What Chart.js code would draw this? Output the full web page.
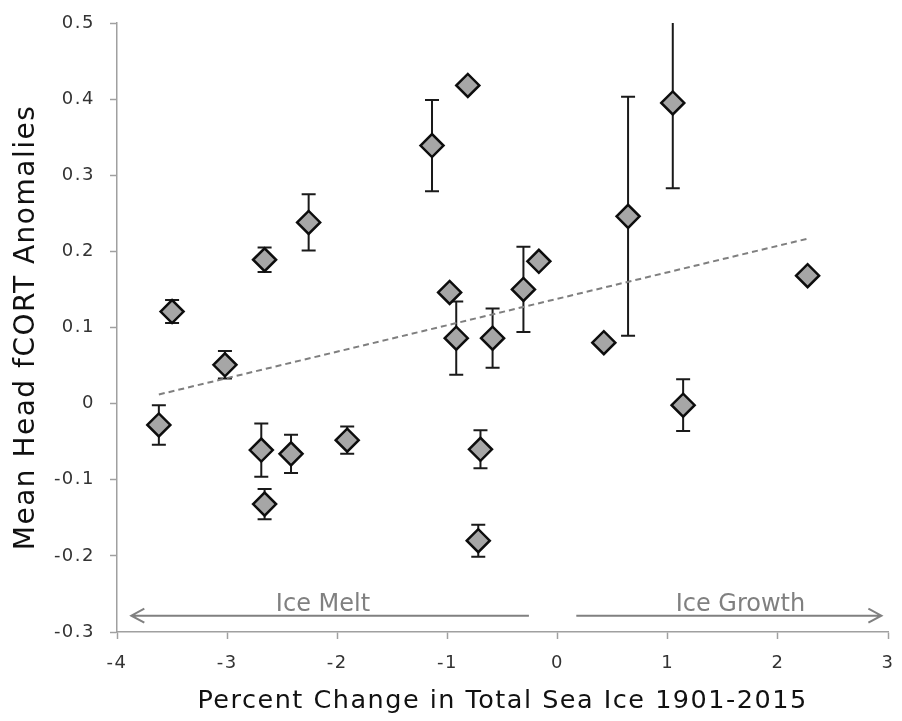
<!DOCTYPE html>
<html>
<head>
<meta charset="utf-8">
<script src="https://cdn.jsdelivr.net/npm/chart.js@4"></script>
<style>
  body { margin: 0; background: #fff; }
  #wrap { width: 902px; height: 721px; position: relative; }
</style>
</head>
<body>
<div id="wrap"><canvas id="myChart"></canvas></div>
<script>
// percent change in sea ice (x), mean head fCORT anomaly (y), +/- error
const xVals = [-3.62, -3.50, -3.02, -2.66, -2.26, -1.14, -0.815, -0.98, -0.92, -0.59, -0.31, -0.17,
               -2.69, -2.42, -2.66, -1.91, -0.70, -0.72, 0.42, 0.64, 1.046, 1.14, 2.27];
const yVals = [-0.028, 0.121, 0.051, 0.189, 0.238, 0.339, 0.418, 0.146, 0.086, 0.086, 0.150, 0.187,
               -0.061, -0.066, -0.132, -0.048, -0.060, -0.180, 0.080, 0.246, 0.395, -0.002, 0.168];
const errVals = [0.026, 0.015, 0.018, 0.016, 0.037, 0.060, 0, 0, 0.048, 0.039, 0.056, 0,
                 0.035, 0.025, 0.020, 0.018, 0.025, 0.021, 0, 0.157, 0.112, 0.034, 0];

// dashed trend line end points
const trendX = [-3.62, 2.28];
const trendY = [0.012, 0.217];

// axis ranges
const xTicks = [-4, 3];
const yTicks = [-0.3, 0.5];

// arrows under the points
const arrowLabels = ['Ice Melt', 'Ice Growth'];
const arrowFrom = [-0.26, 0.17];
const arrowTo = [-3.87, 2.94];
const labelX = [-2.13, 1.66];
const arrowY = -0.2785;
const labelY = -0.272;

const points = xVals.map(function(v, i) { return {x: v, y: yVals[i]}; });
const trend = trendX.map(function(v, i) { return {x: v, y: trendY[i]}; });

// letter spacing for the wide axis text
const spacing = {
    id: 'spacing',
    beforeLayout(chart) { chart.ctx.letterSpacing = '1.5px'; },
    beforeDraw(chart) { chart.ctx.letterSpacing = '1.5px'; }
};

const errorBars = {
    id: 'errorBars',
    beforeDatasetsDraw(chart) {
        const ctx = chart.ctx;
        const area = chart.chartArea;
        const x = chart.scales.x, y = chart.scales.y;
        ctx.save();
        ctx.beginPath();
        ctx.rect(area.left, area.top, area.right - area.left, area.bottom - area.top);
        ctx.clip();
        ctx.strokeStyle = '#1a1a1a';
        ctx.lineWidth = 2;
        xVals.forEach(function(v, i) {
            const e = errVals[i];
            if (!e) return;
            const px = x.getPixelForValue(v);
            const top = y.getPixelForValue(yVals[i] + e);
            const bot = y.getPixelForValue(yVals[i] - e);
            ctx.beginPath();
            ctx.moveTo(px, top); ctx.lineTo(px, bot);
            ctx.moveTo(px - 7, top); ctx.lineTo(px + 7, top);
            ctx.moveTo(px - 7, bot); ctx.lineTo(px + 7, bot);
            ctx.stroke();
        });
        ctx.restore();
    }
};

const arrows = {
    id: 'arrows',
    afterDatasetsDraw(chart) {
        const ctx = chart.ctx;
        const x = chart.scales.x, y = chart.scales.y;
        const py = y.getPixelForValue(arrowY);
        ctx.save();
        ctx.letterSpacing = '0px';
        ctx.strokeStyle = '#808080';
        ctx.fillStyle = '#808080';
        ctx.lineWidth = 2;
        arrowFrom.forEach(function(v, i) {
            const a = x.getPixelForValue(v);
            const b = x.getPixelForValue(arrowTo[i]);
            const dir = b > a ? 1 : -1;
            ctx.beginPath();
            ctx.moveTo(a, py); ctx.lineTo(b, py);
            ctx.moveTo(b - dir * 13, py - 7); ctx.lineTo(b, py); ctx.lineTo(b - dir * 13, py + 7);
            ctx.stroke();
            ctx.font = '24px "DejaVu Sans"';
            ctx.textAlign = 'center';
            ctx.textBaseline = 'alphabetic';
            ctx.fillText(arrowLabels[i], x.getPixelForValue(labelX[i]), y.getPixelForValue(labelY));
        });
        ctx.restore();
    }
};

const config = {
    type: 'scatter',
    data: {
        datasets: [{
            label: 'fCORT',
            data: points,
            pointStyle: 'rectRot',
            pointRadius: 11.5,
            pointHoverRadius: 11.5,
            backgroundColor: '#a6a6a6',
            borderColor: '#0d0d0d',
            borderWidth: 2.5,
            order: 0
        }, {
            type: 'line',
            label: 'trend',
            data: trend,
            borderColor: '#7f7f7f',
            borderWidth: 2,
            borderDash: [6, 4],
            pointRadius: 0,
            fill: false,
            order: 1
        }]
    },
    options: {
        responsive: true,
        maintainAspectRatio: false,
        animation: false,
        layout: {padding: {top: 23, right: 7, left: 0, bottom: 0}},
        plugins: {legend: {display: false}, tooltip: {enabled: false}},
        scales: {
            x: {
                type: 'linear',
                min: xTicks[0],
                max: xTicks[1],
                afterFit: function(s) { s.height = 89; s.paddingLeft = 0; s.paddingRight = 0; },
                ticks: {stepSize: 1, padding: 14, color: '#333', font: {family: 'DejaVu Sans', size: 18}},
                grid: {drawOnChartArea: false, tickLength: 7, tickColor: '#a0a0a0', tickWidth: 1.5},
                border: {color: '#a0a0a0', width: 1.5},
                title: {
                    display: true,
                    text: 'Percent Change in Total Sea Ice 1901-2015',
                    color: '#111',
                    font: {family: 'DejaVu Sans', size: 25.5},
                    padding: {top: 0, bottom: 4}
                }
            },
            y: {
                min: yTicks[0],
                max: yTicks[1],
                afterFit: function(s) { s.width = 117; s.paddingTop = 0; s.paddingBottom = 0; },
                ticks: {stepSize: 0.1, padding: 15, color: '#333', font: {family: 'DejaVu Sans', size: 18}},
                grid: {drawOnChartArea: false, tickLength: 7, tickColor: '#a0a0a0', tickWidth: 1.5},
                border: {color: '#a0a0a0', width: 1.5},
                title: {
                    display: true,
                    text: 'Mean Head fCORT Anomalies',
                    color: '#111',
                    font: {family: 'DejaVu Sans', size: 28},
                    padding: {top: 10, bottom: 0}
                }
            }
        }
    },
    plugins: [spacing, errorBars, arrows]
};

const myChart = new Chart(document.getElementById('myChart'), config);
</script>
</body>
</html>
